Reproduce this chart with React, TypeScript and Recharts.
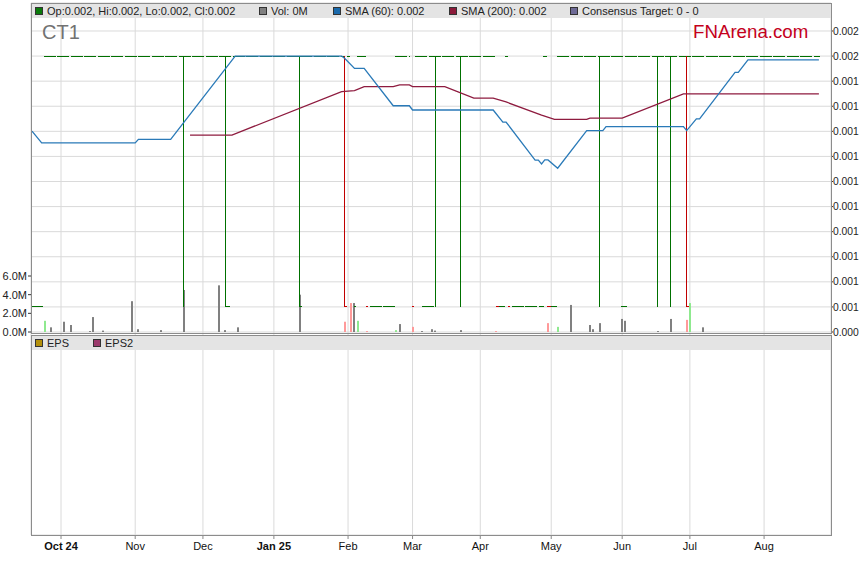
import { ComposedChart, Line, Bar, Cell, XAxis, YAxis, CartesianGrid } from 'recharts';

const FONT = "'Liberation Sans', Arial, Helvetica, sans-serif";

// x axis is trading-day index (weekdays), day 0 = left edge of the data
const monthTicks = [9, 32, 53, 75, 98, 118, 139, 161, 183, 204, 227];
const monthLabels = ['Oct 24', 'Nov', 'Dec', 'Jan 25', 'Feb', 'Mar', 'Apr', 'May', 'Jun', 'Jul', 'Aug'];
const boldLabels = ['Oct 24', 'Jan 25'];

const priceTicks = [0.0009, 0.001, 0.0011, 0.0012, 0.0013, 0.0014, 0.0015, 0.0016, 0.0017, 0.0018, 0.0019, 0.002, 0.0021];
const volTicks = [0, 2e6, 4e6, 6e6];

const sma60Days = [0, 3, 32, 33, 43, 63, 96, 97, 100, 103, 112, 117, 118, 143, 146, 147, 156, 157, 158, 159, 160, 163, 172, 177, 178, 202, 203, 206, 207, 218, 219, 222, 244];
const sma60Vals = [0.001701, 0.001654, 0.001654, 0.001668, 0.001668, 0.002, 0.002, 0.00199, 0.001951, 0.001951, 0.001802, 0.001802, 0.001785, 0.001785, 0.001737, 0.001737, 0.001585, 0.001585, 0.00157, 0.001586, 0.001586, 0.001553, 0.001703, 0.001703, 0.001719, 0.001719, 0.001703, 0.00175, 0.00175, 0.001935, 0.001935, 0.001985, 0.001985];

const sma200Days = [49, 62, 96, 100, 103, 112, 114, 117, 118, 128, 137, 143, 147, 158, 162, 172, 173, 183, 202, 244];
const sma200Vals = [0.001685, 0.001685, 0.001858, 0.001862, 0.001878, 0.001878, 0.001885, 0.001885, 0.001878, 0.001878, 0.001832, 0.001832, 0.001817, 0.001765, 0.001748, 0.001748, 0.001753, 0.001753, 0.001849, 0.001849];

// volume (millions)
const volDays = [4, 6, 10, 12, 18, 19, 22, 31, 33, 40, 47, 58, 60, 64, 83, 97, 99, 100, 101, 104, 113, 114, 118, 121, 124, 125, 133, 144, 160, 163, 167, 173, 174, 176, 183, 184, 194, 198, 203, 204, 208];
const volValues = [1.2, 0.5, 1.1, 0.75, 0.1, 1.6, 0.15, 3.3, 0.3, 0.2, 4.5, 5.0, 0.2, 0.5, 4.0, 1.1, 3.1, 3.1, 1.2, 0.1, 0.2, 0.85, 0.55, 0.1, 0.3, 0.15, 0.2, 0.1, 0.95, 0.55, 2.9, 0.75, 0.3, 0.95, 1.4, 1.2, 0.1, 1.4, 1.3, 3.1, 0.5];
const volKinds = ['up', 'flat', 'flat', 'flat', 'flat', 'flat', 'flat', 'flat', 'flat', 'flat', 'flat', 'flat', 'flat', 'flat', 'flat', 'down', 'down', 'flat', 'up', 'down', 'up', 'flat', 'down', 'flat', 'flat', 'flat', 'flat', 'down', 'down', 'up', 'flat', 'flat', 'flat', 'flat', 'flat', 'flat', 'flat', 'flat', 'down', 'up', 'flat'];
const volColors: Record<string, string> = { up: '#8fe98f', down: '#ff9a9a', flat: '#808080' };

// candle price levels
const HIGH = 0.002;
const LOW = 0.001;
const hiRunFrom = [3.7, 97.7, 100.8, 112.6, 118.8, 146.7, 158.4, 162.8];
const hiRunTo = [97, 98.6, 103.6, 117.2, 143.6, 147.6, 159.7, 244.4];
const loRunFrom = [-0.3, 59.8, 83, 99.8, 104.8, 121, 144.8, 148.8, 160.9, 182.6];
const loRunTo = [3.4, 61.4, 83.7, 100.5, 112.6, 124.7, 146.7, 158.8, 162.8, 184.5];
const redRunFrom = [97, 103.6, 117.8, 143.9, 147.6, 159.7, 202.8];
const redRunTo = [97.7, 104.2, 118.4, 144.8, 148.2, 160.9, 203.7];
const upWickDays = [47, 60, 83, 125, 133, 176, 194, 198];
const downWickDays = [97, 203];

const legendTop = [
  { left: 35, color: '#0a7a0a', text: 'Op:0.002, Hi:0.002, Lo:0.002, Cl:0.002' },
  { left: 259, color: '#808080', text: 'Vol: 0M' },
  { left: 333, color: '#1a6aac', text: 'SMA (60): 0.002' },
  { left: 449, color: '#8b1a3a', text: 'SMA (200): 0.002' },
  { left: 570, color: '#6e6a96', text: 'Consensus Target: 0 - 0' },
];
const legendEps = [
  { left: 35, color: '#b38f0a', text: 'EPS' },
  { left: 93, color: '#9b3a6c', text: 'EPS2' },
];

const volRows = volDays.map((d, i) => ({ d, vol: volValues[i] * 1e6, kind: volKinds[i] }));
const sma60Rows = sma60Days.map((d, i) => ({ d, p: sma60Vals[i] }));
const sma200Rows = sma200Days.map((d, i) => ({ d, p: sma200Vals[i] }));

const runRows = (from: number[], to: number[], level: number) =>
  from.flatMap((f, i) => [{ d: f, p: level }, { d: to[i], p: level }, { d: to[i], p: null }]);
const wickRows = (days: number[]) =>
  days.flatMap((d) => [{ d, p: LOW }, { d, p: HIGH }, { d, p: null }]);

const MonthTick = ({ x, y, payload }: any) => {
  const label = monthLabels[monthTicks.indexOf(payload.value)] ?? '';
  return (
    <text x={x} y={y + 9} textAnchor="middle" fontSize={11} fontFamily={FONT}
      fontWeight={boldLabels.includes(label) ? 700 : 400} fill="#111">
      {label}
    </text>
  );
};

// thin 2px volume bar, snapped to whole pixels
const VolBar = (props: any) => {
  const { x, y, width, height, fill } = props;
  if (!height || height <= 0) return null;
  const cx = Math.round(x + width / 2);
  return <rect x={cx - 1} y={y} width={2} height={height} fill={fill} />;
};

const LegendItem = ({ left, top, color, text }: any) => (
  <div style={{ position: 'absolute', left, top, height: 14, display: 'flex', alignItems: 'center', fontSize: 11, color: '#222', whiteSpace: 'nowrap' }}>
    <span style={{ display: 'inline-block', width: 8, height: 8, boxSizing: 'border-box', border: '1px solid #333', background: color, marginRight: 4 }} />
    {text}
  </div>
);

const truncPrice = (v: number) => (Math.floor(v * 1000 + 1e-6) / 1000).toFixed(3);

export default function App() {
  const lineProps = { yAxisId: 'price', dataKey: 'p', dot: false, activeDot: false, isAnimationActive: false, connectNulls: false } as const;
  return (
    <div style={{ position: 'absolute', left: 0, top: 0, width: 859, height: 566, background: '#fff', fontFamily: FONT }}>
      <ComposedChart width={859} height={566} data={volRows} margin={{ top: 3, right: 0, bottom: 0, left: 0 }}>
        <CartesianGrid yAxisId="price" stroke="#dadada" />
        <XAxis dataKey="d" type="number" domain={[-0.31, 247.75]} allowDataOverflow ticks={monthTicks} interval={0}
          height={31} axisLine={false} tickLine={{ stroke: '#888' }} tickSize={4} tickMargin={2} tick={<MonthTick />} />
        <YAxis yAxisId="price" orientation="right" width={28} domain={[0.0000907, 0.0022116]} allowDataOverflow
          ticks={priceTicks} interval={0} tickFormatter={truncPrice} axisLine={false}
          tickLine={{ stroke: '#333' }} tickSize={2} tickMargin={0}
          tick={{ fontSize: 10.3, fill: '#222', fontFamily: FONT, textAnchor: 'start' }} />
        <YAxis yAxisId="vol" orientation="left" width={31} domain={[-21.75e6, 35.25e6]} allowDataOverflow
          ticks={volTicks} interval={0} tickFormatter={(v: number) => `${(v / 1e6).toFixed(1)}M`} axisLine={false}
          tickLine={{ stroke: '#333' }} tickSize={3} tickMargin={1}
          tick={{ fontSize: 11, fill: '#222', fontFamily: FONT }} />
        <Bar yAxisId="vol" dataKey="vol" barSize={2} shape={<VolBar />} isAnimationActive={false}>
          {volRows.map((r, i) => (
            <Cell key={`v-${i}`} fill={volColors[r.kind]} />
          ))}
        </Bar>
        <Line {...lineProps} data={runRows(hiRunFrom, hiRunTo, HIGH)} stroke="#007000" strokeWidth={1} strokeDasharray="12 1.5" shapeRendering="crispEdges" />
        <Line {...lineProps} data={runRows(loRunFrom, loRunTo, LOW)} stroke="#007000" strokeWidth={1} strokeDasharray="12 1.5" shapeRendering="crispEdges" />
        <Line {...lineProps} data={runRows(redRunFrom, redRunTo, LOW)} stroke="#cc0000" strokeWidth={1} shapeRendering="crispEdges" />
        <Line {...lineProps} data={wickRows(upWickDays)} stroke="#007000" strokeWidth={1} shapeRendering="crispEdges" />
        <Line {...lineProps} data={wickRows(downWickDays)} stroke="#c00000" strokeWidth={1} shapeRendering="crispEdges" />
        <Line {...lineProps} data={sma200Rows} stroke="#8e1b3f" strokeWidth={1.3} />
        <Line {...lineProps} data={sma60Rows} stroke="#2a7ab8" strokeWidth={1.3} />
      </ComposedChart>

      {/* panel frames and header strips */}
      <div style={{ position: 'absolute', left: 31, top: 3, width: 801, height: 331, boxSizing: 'border-box', border: '1px solid #8c8c8c', pointerEvents: 'none' }} />
      <div style={{ position: 'absolute', left: 32, top: 4, width: 799, height: 14, background: '#e4e4e4' }} />
      <div style={{ position: 'absolute', left: 31, top: 335, width: 801, height: 201, boxSizing: 'border-box', border: '1px solid #8c8c8c', pointerEvents: 'none' }} />
      <div style={{ position: 'absolute', left: 32, top: 336, width: 799, height: 14, background: '#e4e4e4' }} />

      {legendTop.map((it) => (
        <LegendItem key={it.text} left={it.left} top={4} color={it.color} text={it.text} />
      ))}
      {legendEps.map((it) => (
        <LegendItem key={it.text} left={it.left} top={336} color={it.color} text={it.text} />
      ))}

      <div style={{ position: 'absolute', left: 42, top: 22, fontSize: 20, lineHeight: '20px', color: '#727272' }}>CT1</div>
      <div style={{ position: 'absolute', left: 693, top: 23, fontSize: 18.7, lineHeight: '18.7px', color: '#c4001c' }}>FNArena.com</div>
    </div>
  );
}
